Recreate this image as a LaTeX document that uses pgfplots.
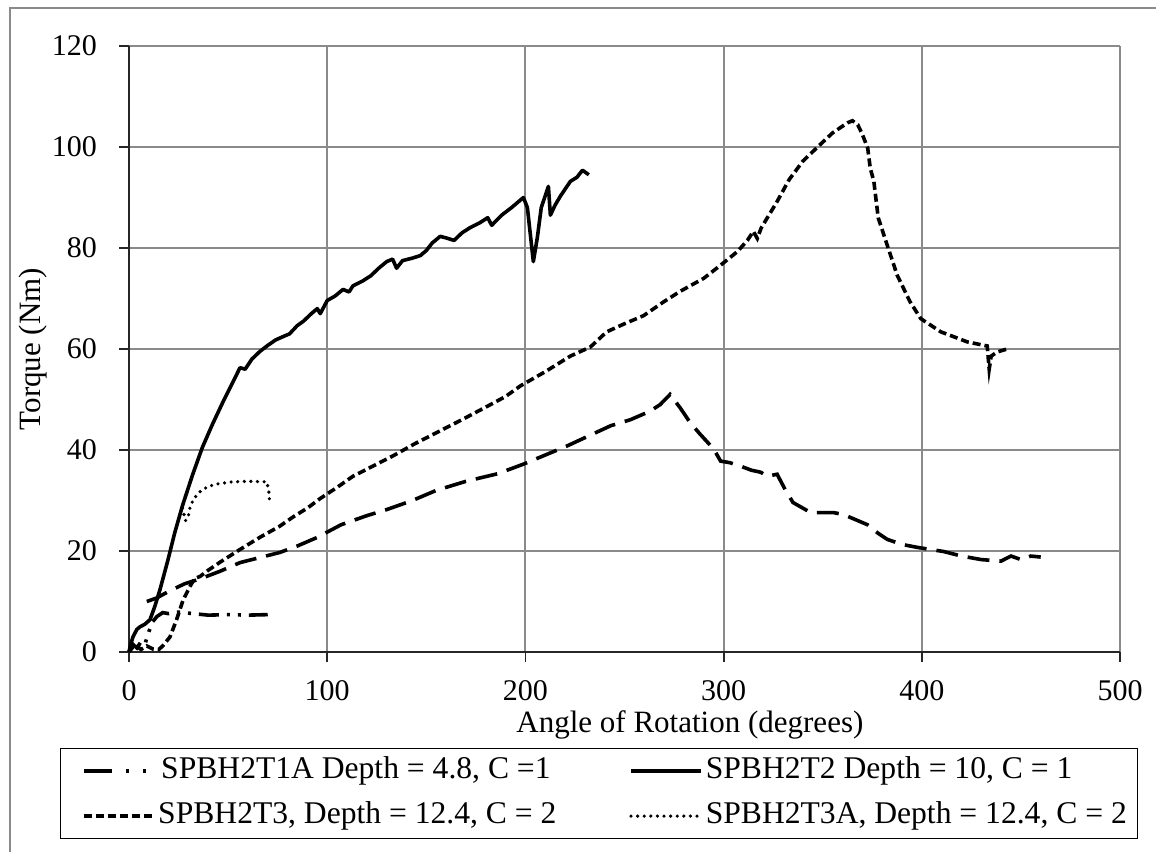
\documentclass[border=0pt]{standalone}
\usepackage{pgfplots}
\pgfplotsset{compat=1.18}
\usepackage{fontspec}
\setmainfont{Liberation Serif}
\definecolor{gridgray}{HTML}{8A8A8A}
\pgfplotsset{
  leftlegend/.style={legend image code/.code={\path (-11pt,0pt); \draw[##1] (0pt,0pt) -- (35pt,0pt);}},
  firstlegend/.style={legend image code/.code={\path (-11pt,0pt) (35pt,0pt); \draw[##1, dash pattern=on 14pt off 7pt on 1.5pt off 7pt on 1.5pt off 30pt] (0pt,0pt) -- (35pt,0pt);}},
  rightlegend/.style={legend image code/.code={\draw[##1] (0pt,0pt) -- (35pt,0pt);}},
}
\begin{document}
\begin{tikzpicture}[font=\fontsize{15.5}{18}\selectfont]
\useasboundingbox (0pt,0pt) rectangle (578pt,426pt);
\draw[gridgray, line width=1pt] (5pt,0pt) -- (5pt,422pt) -- (578pt,422pt);
\begin{axis}[
  at={(64.5pt,100pt)}, anchor=south west,
  scale only axis, width=495.5pt, height=303pt,
  xmin=0, xmax=500, ymin=0, ymax=120,
  xtick={0,100,...,500}, ytick={0,20,...,120},
  axis x line=bottom, axis y line=left,
  axis line style={-, line width=1pt, black!85},
  tick align=outside, major tick length=5pt,
  tick style={line width=0.9pt, black!85},
  grid=major, major grid style={gridgray, line width=1pt},
  /pgf/number format/assume math mode=true,
  ticklabel style={font=\fontsize{15}{18}\selectfont},
  xticklabel style={yshift=-5.5pt},
  yticklabel style={xshift=-7.5pt},
  xlabel={Angle of Rotation (degrees)},
  ylabel={Torque (Nm)},
  xlabel style={at={(axis description cs:0.566,-0.1205)}, anchor=center},
  ylabel style={at={(axis description cs:-0.097,0.5)}, anchor=center},
  legend columns=2,
  legend style={at={(axis description cs:-0.0696,-0.1584)}, anchor=north west,
    draw=black, line width=0.6pt, inner xsep=0pt, inner ysep=4pt,
    font=\fontsize{15.8}{18}\selectfont,
    nodes={inner xsep=0pt, inner ysep=0pt, text height=11pt, text depth=3.5pt},
    /tikz/every even column/.append style={column sep=0pt},
    /tikz/every odd column/.append style={column sep=0pt},
    row sep=8pt},
  rightlegend,
  clip=false,
]
% SPBH2T1A
\addplot[black, line width=1.8pt, dash pattern=on 10pt off 4pt on 1.5pt off 4pt on 1.5pt off 4pt, firstlegend] coordinates {
(0,0) (2,1.5) (4,0.8) (6,2) (8,1.5) (10,4) (12,6) (14,7) (17,7.8) (20,7.6) (25,7.9) (30,7.7) (35,7.5) (40,7.3) (50,7.4) (60,7.3) (70,7.4)
};
\addlegendentry{\makebox[236.5pt][l]{\hspace{2.5pt}SPBH2T1A Depth = 4.8, C =1}}
% SPBH2T2
\addplot[black, line width=1.8pt, line join=round] coordinates {
(0,0) (0.5,1) (2,3) (4,4.5) (5.6,5) (8,5.5) (10.6,6.4) (13,9) (15.6,12.3) (19.7,18.3) (23,23.5) (27,29) (32,35) (37,40.5) (42,45) (48,50) (54,54.7) (56,56.3) (58.6,56) (62,58) (66,59.5) (69.6,60.6) (74,61.8) (78,62.5) (81,63) (84.8,64.6) (88,65.5) (92,67) (95,68) (96.5,67) (100,69.6) (104,70.5) (108,71.8) (111,71.3) (113,72.5) (118,73.5) (122,74.5) (126,76) (130,77.3) (133,77.8) (135,76) (138,77.5) (143,78) (147,78.5) (150,79.5) (153,81) (157,82.3) (160,82) (164,81.5) (168,83) (172,84) (177,85) (181,86) (183,84.5) (188,86.5) (193,88) (199,90) (201,88) (204,77.3) (206,82) (208,88) (211.6,92.2) (212.6,86.5) (215,88.5) (217.7,90.3) (222.7,93.2) (226,94) (228.8,95.4) (232,94.5)
};
\addlegendentry{\makebox[217.5pt][l]{\hspace{1.5pt}SPBH2T2 Depth = 10, C = 1}}
% SPBH2T3
\addplot[black, line width=1.8pt, dash pattern=on 4pt off 2pt, leftlegend] coordinates {
(0,0) (3,1.5) (6,0.5) (9,1.2) (12,0.6) (15,0.5) (17,1.2) (20.7,3) (24,6.4) (27.3,10.3) (30.8,13) (33,14.5) (36,15) (40,16.2) (46,17.8) (56,20.3) (66,22.7) (76,24.9) (83,26.8) (90,28.5) (96.5,30.4) (105,32.6) (113,34.8) (123,36.8) (133,38.8) (144,41.2) (155.5,43.5) (168,46) (181,48.7) (190,50.6) (197.5,52.7) (210,55.5) (222.7,58.6) (232.8,60.4) (241,63.4) (250,65) (259.6,66.6) (270,69.4) (278,71.4) (290,74) (298.5,76.6) (307,79.3) (312,81.5) (315,83.3) (317,81.9) (319,84) (327,89.2) (333,93.5) (340,97.2) (348.5,100.4) (355,102.8) (362.6,104.8) (365,105.2) (367.7,104.4) (370,102.5) (372.7,99.8) (374,95.8) (375.8,93.2) (378,86) (382.6,80.5) (387.6,74.6) (394,69.4) (399.5,66) (409.6,63.4) (423,61.4) (433,60.6) (434,56) (435,58.6) (438,59.4) (443,60)
};
\addlegendentry{\makebox[236.5pt][l]{\hspace{1pt}SPBH2T3, Depth = 12.4, C = 2}}
% SPBH2T3A
\addplot[black, line width=1.8pt, line cap=round, dash pattern=on 0pt off 3.3pt] coordinates {
(27,28.5) (28.5,26) (30,27) (31,29) (33,30.5) (36,31.8) (40,32.8) (45,33.3) (52,33.7) (60,33.8) (69.5,33.7) (70.5,32) (71,29.5)
};
\addlegendentry{\makebox[217.5pt][l]{\hspace{1.5pt}SPBH2T3A, Depth = 12.4, C = 2}}
% unlabelled long-dash series
\addplot[black, line width=1.8pt, dash pattern=on 11pt off 5pt, forget plot] coordinates {
(9,10) (14,10.7) (20,12) (28,13.5) (36,14.5) (46,16) (56,17.7) (66,18.7) (76,19.7) (85,21) (95,22.7) (107,25.2) (120,27) (130,28.2) (143,30) (155,32) (170,33.8) (186,35.3) (199,37.2) (210,39) (221,40.8) (232,42.8) (243,44.8) (253,46) (263,47.7) (268,49) (273,51) (278,48.4) (283,45.5) (288,43.2) (295,40.2) (298.5,37.8) (303,37.5) (308.6,36.8) (314,36) (318.7,35.6) (322,34.8) (327,35.2) (331,32.2) (335,29.6) (344,27.6) (355.6,27.6) (360.6,27.2) (366,26.3) (372.6,25.2) (378,23.5) (382.6,22.3) (390,21.3) (398,20.7) (411,19.9) (420,19) (430,18.3) (440,18) (445,19) (450,18.3) (455,19) (460,18.8)
};
\end{axis}
\end{tikzpicture}
\end{document}
